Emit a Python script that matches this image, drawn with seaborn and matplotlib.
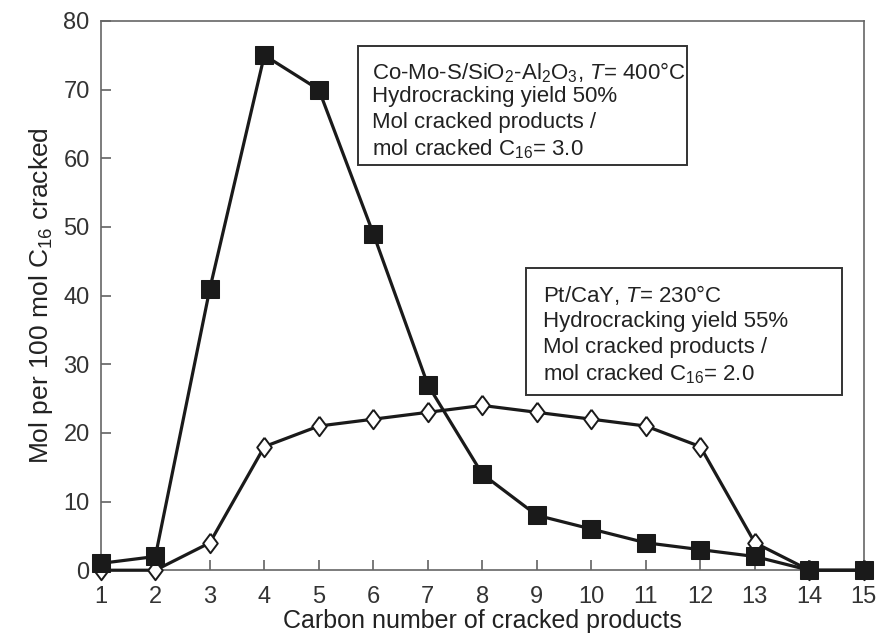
import matplotlib
matplotlib.use("Agg")
import matplotlib.pyplot as plt
import seaborn as sns
import pandas as pd

# Carbon number of cracked products
carbon_number = list(range(1, 16))
# Co-Mo-S/SiO2-Al2O3, T = 400 C
como_values = [1, 2, 41, 75, 70, 49, 27, 14, 8, 6, 4, 3, 2, 0, 0]
# Pt/CaY, T = 230 C
ptcay_values = [0, 0, 4, 18, 21, 22, 23, 24, 23, 22, 21, 18, 4, 0, 0]

x_ticks = list(range(1, 16))
y_ticks = list(range(0, 90, 10))

como_lines = [
    "Co-Mo-S/SiO$_2$-Al$_2$O$_3$, $T$= 400°C",
    "Hydrocracking yield 50%",
    "Mol cracked products /",
    "mol cracked C$_{16}$= 3.0",
]
ptcay_lines = [
    "Pt/CaY, $T$= 230°C",
    "Hydrocracking yield 55%",
    "Mol cracked products /",
    "mol cracked C$_{16}$= 2.0",
]

sns.set_style("ticks")
plt.rcParams["font.family"] = ["Liberation Sans", "DejaVu Sans"]
plt.rcParams["mathtext.fontset"] = "custom"
plt.rcParams["mathtext.rm"] = "Liberation Sans"
plt.rcParams["mathtext.it"] = "Liberation Sans:italic"

df = pd.DataFrame({
    "carbon": carbon_number * 2,
    "mol": como_values + ptcay_values,
    "catalyst": ["Co-Mo-S"] * len(carbon_number) + ["Pt/CaY"] * len(carbon_number),
})

fig = plt.figure(figsize=(8.77, 6.35), dpi=100)
ax = fig.add_axes([0.115, 0.102, 0.87, 0.865])

tall_diamond = [(0, 1), (0.75, 0), (0, -1), (-0.75, 0), (0, 1)]
sns.lineplot(data=df[df.catalyst == "Pt/CaY"], x="carbon", y="mol", ax=ax,
             color="#1a1a1a", linewidth=2.3, marker=tall_diamond, markersize=14,
             markerfacecolor="white", markeredgecolor="#1a1a1a",
             markeredgewidth=1.4, clip_on=False, zorder=3)
sns.lineplot(data=df[df.catalyst == "Co-Mo-S"], x="carbon", y="mol", ax=ax,
             color="#1a1a1a", linewidth=2.3, marker="s", markersize=12.5,
             markerfacecolor="#1a1a1a", markeredgecolor="#1a1a1a",
             clip_on=False, zorder=4)

ax.set_xlim(1, 15)
ax.set_ylim(0, 80)
ax.set_xticks(x_ticks)
ax.set_yticks(y_ticks)
ax.tick_params(direction="in", length=7, width=1.1, labelsize=17,
               colors="#555555", labelcolor="#333333")
ax.tick_params(axis="x", pad=11)
ax.tick_params(axis="y", pad=8)
for side in ["left", "right", "top", "bottom"]:
    ax.spines[side].set_visible(True)
    ax.spines[side].set_color("#666666")
    ax.spines[side].set_linewidth(1.2)

ax.set_xlabel("Carbon number of cracked products", fontsize=18,
              color="#222222", labelpad=1)
ax.set_ylabel("Mol per 100 mol C$_{16}$ cracked", fontsize=19,
              color="#222222", labelpad=6)

# annotation boxes (axes fraction)
ax.add_patch(plt.Rectangle((0.337, 0.738), 0.431, 0.216, transform=ax.transAxes,
                           facecolor="white", edgecolor="#333333",
                           linewidth=1.4, zorder=5))
for line, y in zip(como_lines, [0.893, 0.852, 0.805, 0.756]):
    ax.text(0.355, y, line, transform=ax.transAxes, ha="left", va="baseline",
            fontsize=16, color="#222222", zorder=6)

ax.add_patch(plt.Rectangle((0.557, 0.319), 0.415, 0.231, transform=ax.transAxes,
                           facecolor="white", edgecolor="#333333",
                           linewidth=1.4, zorder=5))
for line, y in zip(ptcay_lines, [0.488, 0.443, 0.395, 0.346]):
    ax.text(0.579, y, line, transform=ax.transAxes, ha="left", va="baseline",
            fontsize=16, color="#222222", zorder=6)

fig.savefig("out.png", dpi=100)
